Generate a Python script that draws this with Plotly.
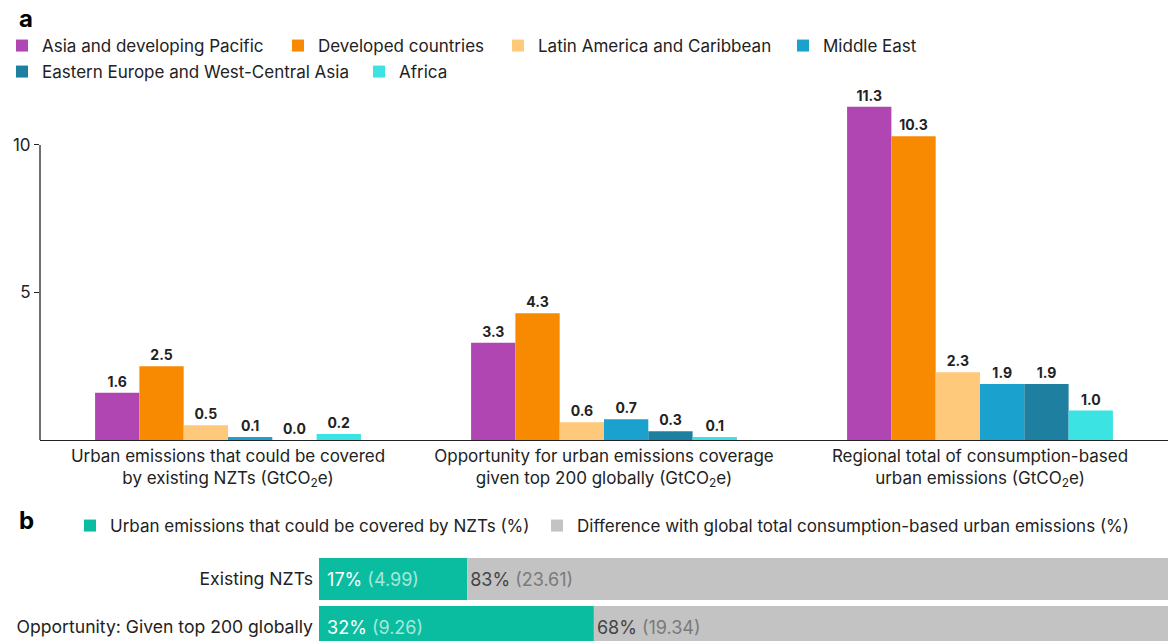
import plotly.graph_objects as go

# ---- Panel a: urban emissions by region (GtCO2e) ----
groups = [
    "Urban emissions that could be covered<br>by existing NZTs (GtCO<sub>2</sub>e)",
    "Opportunity for urban emissions coverage<br>given top 200 globally (GtCO<sub>2</sub>e)",
    "Regional total of consumption-based<br>urban emissions (GtCO<sub>2</sub>e)",
]
regions = [
    "Asia and developing Pacific",
    "Developed countries",
    "Latin America and Caribbean",
    "Middle East",
    "Eastern Europe and West-Central Asia",
    "Africa",
]
asia_pacific = [1.6, 3.3, 11.3]
developed = [2.5, 4.3, 10.3]
latin_america = [0.5, 0.6, 2.3]
middle_east = [0.1, 0.7, 1.9]
eastern_europe = [0.0, 0.3, 1.9]
africa = [0.2, 0.1, 1.0]
region_values = [asia_pacific, developed, latin_america, middle_east, eastern_europe, africa]
region_colors = ["#AF46B1", "#F78A00", "#FEC97A", "#1AA1CE", "#1E7FA0", "#3BE3E3"]

# ---- Panel b: share of global consumption-based urban emissions ----
scenarios = ["Existing NZTs", "Opportunity: Given top 200 globally"]
covered_gt = [4.99, 9.26]
remaining_gt = [23.61, 19.34]
covered_pct = [17, 32]
remaining_pct = [83, 68]
covered_name = "Urban emissions that could be covered by NZTs (%)"
remaining_name = "Difference with global total consumption-based urban emissions (%)"

W, H = 1168, 641
FONT = "Inter"
INK = "#222222"


def py(px):
    """Convert a pixel row (from the top) into paper coordinates."""
    return 1 - px / H


def px_x(px):
    """Convert a pixel column into paper coordinates."""
    return px / W


# legend key placement: (left edge of swatch, row centre) for each entry
legend_spots = [
    (17, 46), (293, 46), (513, 46), (798, 46),
    (17, 72), (374, 72),
    (85, 526), (552, 526),
]

fig = go.Figure()

for i, (name, vals, col) in enumerate(zip(regions, region_values, region_colors)):
    fig.add_trace(go.Bar(
        x=groups, y=vals, name=name, marker_color=col, marker_line_width=0,
        text=[f"{v:.1f}" for v in vals], textposition="outside",
        textfont=dict(family=FONT, size=14, color=INK, weight="bold"),
        constraintext="none", cliponaxis=False,
        xaxis="x", yaxis="y",
        legend="legend" if i == 0 else f"legend{i + 1}",
    ))

total_gt = covered_gt[0] + remaining_gt[0]

fig.add_trace(go.Bar(
    y=scenarios, x=covered_gt, orientation="h", name=covered_name,
    marker_color="#0BBDA0", marker_line_width=0,
    width=0.875, offset=-0.4375,
    text=[f"&nbsp;{p}%<span style='color:#A6E8DB'>&nbsp;({g:.2f})</span>"
          for p, g in zip(covered_pct, covered_gt)],
    textposition="inside", insidetextanchor="start", textangle=0,
    textfont=dict(family=FONT, size=18, color="white"), constraintext="none",
    xaxis="x2", yaxis="y2", legend="legend7",
))
fig.add_trace(go.Bar(
    y=scenarios, x=remaining_gt, base=covered_gt, orientation="h", name=remaining_name,
    marker_color="#C3C3C3", marker_line_width=0,
    width=0.875, offset=-0.4375,
    text=[f"{p}%<span style='color:#7A7A7A'>&nbsp;({g:.2f})</span>" for p, g in zip(remaining_pct, remaining_gt)],
    textposition="inside", insidetextanchor="start", textangle=0,
    textfont=dict(family=FONT, size=18, color="#444444"), constraintext="none",
    xaxis="x2", yaxis="y2", legend="legend8",
))

legend_layout = {}
for k, (sx, sy) in enumerate(legend_spots):
    key = "legend" if k == 0 else f"legend{k + 1}"
    legend_layout[key] = dict(
        orientation="h", xanchor="left", yanchor="middle",
        x=px_x(max(sx - 15, 0)), y=py(sy),
        font=dict(family=FONT, size=17, color=INK),
        bgcolor="rgba(0,0,0,0)", itemclick=False, itemdoubleclick=False,
    )

fig.update_layout(
    width=W, height=H, autosize=False,
    margin=dict(l=0, r=0, t=0, b=0),
    paper_bgcolor="white", plot_bgcolor="white",
    font=dict(family=FONT, size=17, color=INK),
    barmode="group", bargap=0.293, bargroupgap=0,
    showlegend=True,
    xaxis=dict(
        domain=[40 / W, 1], anchor="y", range=[-0.5, 2.5],
        showline=True, linecolor=INK, linewidth=1.3, ticks="",
        tickfont=dict(family=FONT, size=17, color=INK), showgrid=False,
    ),
    yaxis=dict(
        domain=[py(440), py(100)], anchor="x", range=[0, 11.525],
        showline=False, showgrid=False, zeroline=False,
        tickvals=[5, 10], ticks="outside", ticklen=5, tickcolor=INK, tickwidth=1.3,
        tickfont=dict(family=FONT, size=17, color=INK),
    ),
    xaxis2=dict(
        domain=[319 / W, 1], anchor="y2", range=[0, total_gt],
        visible=False, showgrid=False, zeroline=False,
    ),
    yaxis2=dict(
        domain=[0, py(552)], anchor="x2", range=[1.2917, -0.5625],
        type="category", showline=False, showgrid=False, ticks="",
        ticklabelstandoff=5,
        tickfont=dict(family=FONT, size=17.6, color=INK),
    ),
    **legend_layout,
)

# y-axis spine of panel a stops at the top tick
fig.add_shape(type="line", xref="x domain", yref="y", x0=0, x1=0, y0=0, y1=10,
              line=dict(color=INK, width=1.3))

for letter, ypx in (("a", 18), ("b", 520)):
    fig.add_annotation(text=f"<b>{letter}</b>", xref="paper", yref="paper",
                       x=17 / W, y=py(ypx), xanchor="left", yanchor="middle",
                       showarrow=False, font=dict(family=FONT, size=24, color="black"))

fig.write_html("out.html")
